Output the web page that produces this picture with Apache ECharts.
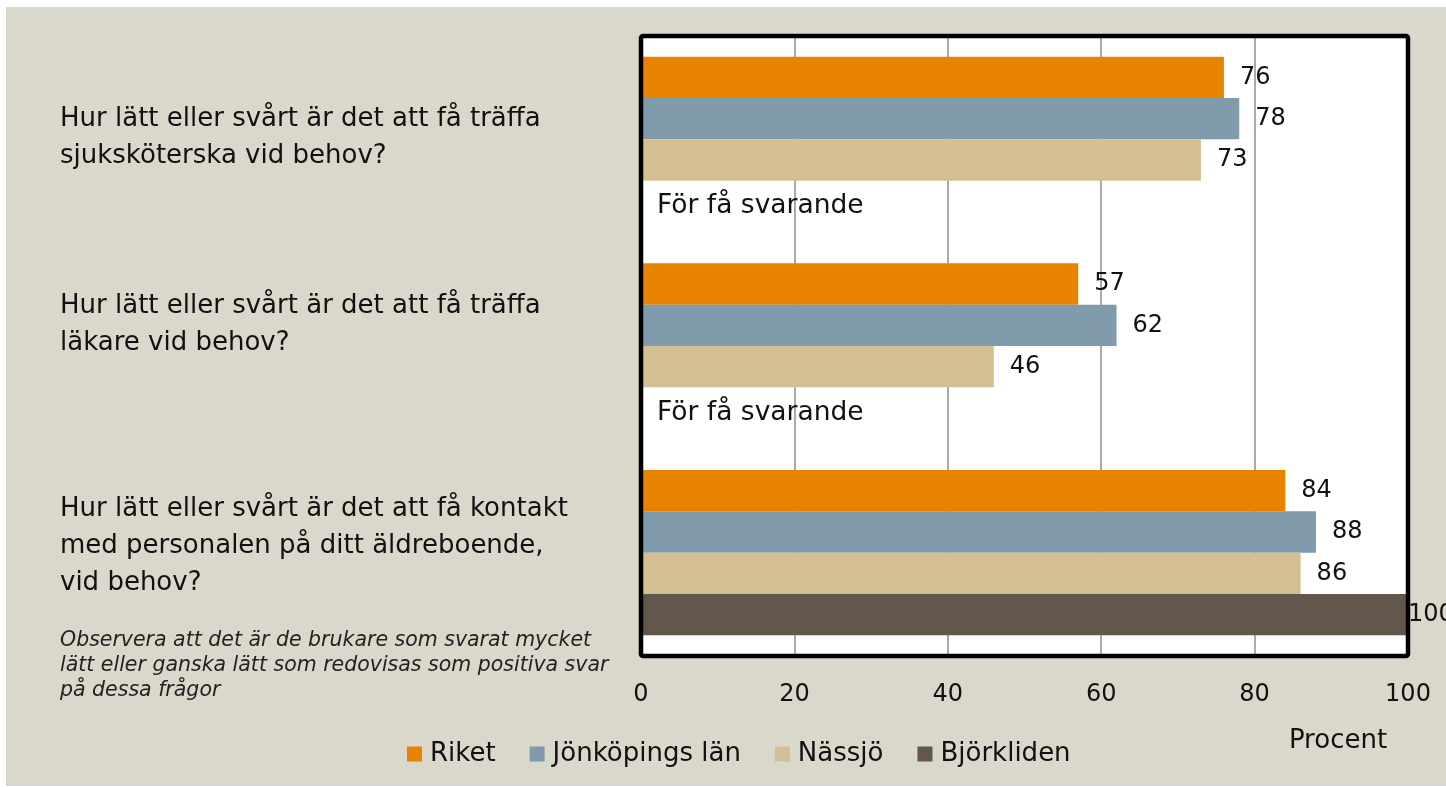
<!DOCTYPE html>
<html>
<head>
<meta charset="utf-8">
<script src="https://cdn.jsdelivr.net/npm/echarts@6/dist/echarts.min.js"></script>
<style>
  html, body { margin: 0; padding: 0; background: #fff; }
  #container { position: absolute; left: 6px; top: 7px; width: 1440px; height: 779px; }
</style>
</head>
<body>
<div id="container"></div>
<script>
;(function() {

  var categories = [
    'Hur lätt eller svårt är det att få träffa\nsjuksköterska vid behov?',
    'Hur lätt eller svårt är det att få träffa\nläkare vid behov?',
    'Hur lätt eller svårt är det att få kontakt\nmed personalen på ditt äldreboende,\nvid behov?'
  ]
  var riket = [76, 57, 84]
  var jonkoping = [78, 62, 88]
  var nassjo = [73, 46, 86]
  var bjorkliden = [null, null, 100]   // null = för få svarande
  var xTicks = [0, 20, 40, 60, 80, 100]
  var note = 'Observera att det är de brukare som svarat mycket\nlätt eller ganska lätt som redovisas som positiva svar\npå dessa frågor'

  var font = 'DejaVu Sans'
  // extra blank space under each question label, lifts it above the band centre
  var labelPad = [4, 42, 12]

  var dom = document.getElementById('container')
  var myChart = echarts.init(dom)

  // grid box in container px
  var G = { left: 635, top: 29, right: 38, bottom: 130 }
  var gw = 1440 - G.left - G.right
  var gh = 779 - G.top - G.bottom

  function barSeries(name, values, color) {
    return {
      name: name,
      type: 'bar',
      barGap: '0%',
      barCategoryGap: '20%',
      itemStyle: { color: color },
      label: {
        show: true,
        position: 'right',
        distance: 16,
        color: '#111',
        fontFamily: font,
        fontSize: 24
      },
      data: values.map(function(v) {
        if (v === null) {
          return { value: 0, label: { formatter: 'För få svarande', distance: 16, fontSize: 26.5, offset: [0, 5] } }
        }
        if (v === 100) {
          return { value: v, label: { distance: 0 } }
        }
        return v
      })
    }
  }

  var rich = {}
  labelPad.forEach(function(h, i) {
    rich['g' + i] = { height: h, lineHeight: h, fontSize: 1 }
  })

  var option = {
    backgroundColor: '#dad8cb',
    animation: false,
    legend: {
      left: 401,
      top: 734,
      padding: 0,
      itemWidth: 15,
      itemHeight: 15,
      itemGap: 34,
      icon: 'rect',
      textStyle: { fontFamily: font, fontSize: 26, color: '#111', padding: [0, 0, 0, 3] },
      data: ['Riket', 'Jönköpings län', 'Nässjö', 'Björkliden']
    },
    grid: {
      left: G.left,
      right: G.right,
      top: G.top,
      bottom: G.bottom,
      show: true,
      backgroundColor: '#fff',
      borderWidth: 0,
      containLabel: false,
      outerBoundsMode: 'none'
    },
    xAxis: {
      type: 'value',
      min: 0,
      max: 100,
      interval: 20,
      name: 'Procent',
      nameLocation: 'end',
      nameGap: -70,
      nameTextStyle: {
        fontFamily: font, fontSize: 26, color: '#111',
        align: 'center', verticalAlign: 'top', padding: [72, 0, 0, 0]
      },
      axisLine: { show: false },
      axisTick: { show: false },
      axisLabel: {
        margin: 27,
        fontFamily: font,
        fontSize: 24,
        color: '#111',
        formatter: function(v) { return xTicks.indexOf(v) >= 0 ? String(v) : '' }
      },
      splitLine: { show: true, lineStyle: { color: '#8e8e8e', width: 1.5 } }
    },
    yAxis: {
      type: 'category',
      inverse: true,
      axisLine: { show: false },
      axisTick: { show: false },
      axisLabel: {
        align: 'left',
        margin: 581,
        fontFamily: font,
        fontSize: 26,
        lineHeight: 37,
        color: '#111',
        formatter: function(value, index) {
          return value + '\n{g' + index + '| }'
        },
        rich: rich
      },
      data: categories
    },
    graphic: [
      {
        type: 'rect',
        z: 100,
        silent: true,
        shape: { x: G.left, y: G.top, width: gw, height: gh, r: 2 },
        style: { fill: null, stroke: '#000', lineWidth: 4.5 }
      },
      {
        type: 'text',
        left: 54,
        top: 621,
        style: {
          text: note,
          fontFamily: font,
          fontSize: 20.5,
          fontStyle: 'italic',
          lineHeight: 25,
          fill: '#222'
        }
      }
    ],
    series: [
      barSeries('Riket', riket, '#e88300'),
      barSeries('Jönköpings län', jonkoping, '#7f9bac'),
      barSeries('Nässjö', nassjo, '#d4bf95'),
      barSeries('Björkliden', bjorkliden, '#63564a')
    ]
  }

  myChart.setOption(option)
})()
</script>
</body>
</html>
